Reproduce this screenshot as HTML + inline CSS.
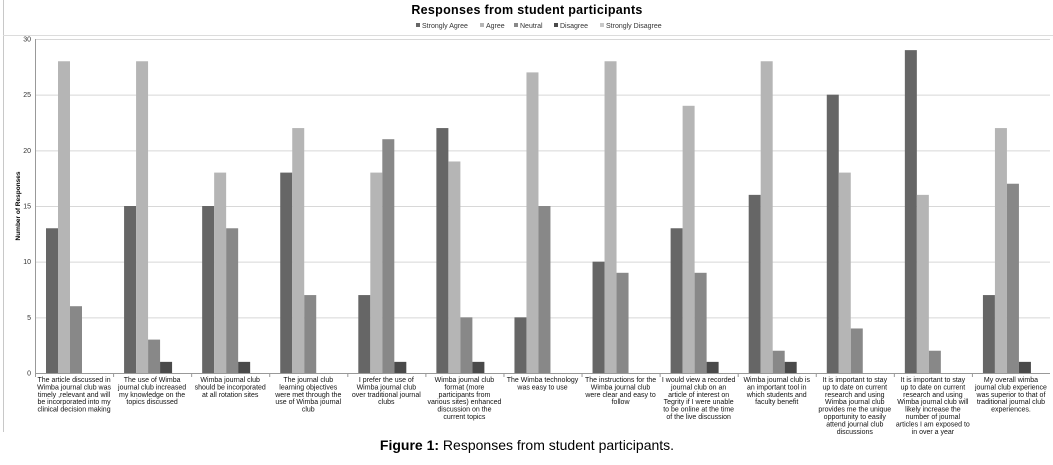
<!DOCTYPE html>
<html><head><meta charset="utf-8"><style>
body{margin:0;background:#fff;width:1053px;height:460px;overflow:hidden;font-family:"Liberation Sans",sans-serif;}
</style></head><body>
<svg id="chart" width="1053" height="460" xmlns="http://www.w3.org/2000/svg" font-family="Liberation Sans, sans-serif">
<line x1="3.5" y1="0" x2="3.5" y2="432" stroke="#c8c8c8"/>
<line x1="3" y1="35.5" x2="1053" y2="35.5" stroke="#dcdcdc"/>
<text x="527" y="14" text-anchor="middle" font-size="12.5" font-weight="bold" letter-spacing="0.3">Responses from student participants</text>
<g id="legend"></g>
<g id="grid"></g><g id="bars"></g><g id="xlabels"></g>
<text transform="translate(20,206) rotate(-90)" text-anchor="middle" font-size="6.5" font-weight="bold">Number of Responses</text>
<text x="527" y="450" text-anchor="middle" font-size="14"><tspan font-weight="bold">Figure 1:</tspan> Responses from student participants.</text>
</svg>
<script>
const categories=[
["The article discussed in","Wimba journal club was","timely ,relevant and will","be incorporated into my","clinical decision making"],
["The use of Wimba","journal club increased","my knowledge on the","topics discussed"],
["Wimba journal club","should be incorporated","at all rotation sites"],
["The journal club","learning objectives","were met through the","use of Wimba journal","club"],
["I prefer the use of","Wimba journal club","over traditional journal","clubs"],
["Wimba journal club","format (more","participants from","various sites) enhanced","discussion on the","current topics"],
["The Wimba technology","was easy to use"],
["The instructions for the","Wimba journal club","were clear and easy to","follow"],
["I would view a recorded","journal club on an","article of interest on","Tegrity if I were unable","to be online at the time","of the live discussion"],
["Wimba journal club is","an important tool in","which students and","faculty benefit"],
["It is important to stay","up to date on current","research and using","Wimba journal club","provides me the unique","opportunity to easily","attend journal club","discussions"],
["It is important to stay","up to date on current","research and using","Wimba journal club will","likely increase the","number of journal","articles I am exposed to","in over a year"],
["My overall wimba","journal club experience","was superior to that of","traditional journal club","experiences."]];
const seriesNames=["Strongly Agree","Agree","Neutral","Disagree","Strongly Disagree"];
const stronglyAgree=[13,15,15,18,7,22,5,10,13,16,25,29,7];
const agree=[28,28,18,22,18,19,27,28,24,28,18,16,22];
const neutral=[6,3,13,7,21,5,15,9,9,2,4,2,17];
const disagree=[0,1,1,0,1,1,0,0,1,1,0,0,1];
const stronglyDisagree=[0,0,0,0,0,0,0,0,0,0,0,0,0];
const yTicks=[0,5,10,15,20,25,30];
const series=[stronglyAgree,agree,neutral,disagree,stronglyDisagree];
const colors=["#666666","#b5b5b5","#888888","#4a4a4a","#c8c8c8"];
const NS="http://www.w3.org/2000/svg";
const L=35,R=1050,T=39,B=373,ymax=30;
const y=v=>B-(v/ymax)*(B-T);
const cw=(R-L)/categories.length;
const x=i=>L+i*cw;
function mk(tag,attrs,parent){const e=document.createElementNS(NS,tag);for(const k in attrs)e.setAttribute(k,attrs[k]);parent.appendChild(e);return e;}
const grid=document.getElementById('grid');
yTicks.forEach(t=>{
 const ln=mk('line',{x1:L,x2:R,y1:y(t)+0.5,y2:y(t)+0.5,stroke:t===0?'#999':'#d8d8d8'},grid);
 
 
 const tx=mk('text',{x:L-4,y:y(t)+2.5,'text-anchor':'end','font-size':'7',fill:'#333'},grid);
 tx.textContent=t;
 
 
});
const ax=mk('line',{x1:L+0.5,x2:L+0.5,y1:T,y2:B,stroke:'#999'},grid);


const bars=document.getElementById('bars');
const bw=12;
categories.forEach((c,i)=>{
 const tk=mk('line',{x1:x(i)+0.5,x2:x(i)+0.5,y1:B,y2:B+4,stroke:'#999'},grid);
 
 
 const start=x(i)+11;
 series.forEach((s,j)=>{
  if(s[i]<=0)return;
  const r=mk('rect',{x:start+j*bw,y:y(s[i]),width:bw,height:B-y(s[i]),fill:colors[j]},bars);
  
  
 });
 const tx=mk('text',{'text-anchor':'middle','font-size':'7',fill:'#111'},document.getElementById('xlabels'));
 
 
 c.forEach((line,k)=>{const ts=mk('tspan',{x:x(i)+cw/2,y:382+k*7.4},tx);ts.textContent=line;});
});
const lg=document.getElementById('legend');
const lx=[416,480,514,554,600];
seriesNames.forEach((n,j)=>{
 const r=mk('rect',{x:lx[j],y:23,width:4,height:4,fill:colors[j]},lg);
 
 
 const t=mk('text',{x:lx[j]+6,y:28,'font-size':'7',fill:'#333'},lg);
 t.textContent=n;
 
 
});
</script>
</body></html>
